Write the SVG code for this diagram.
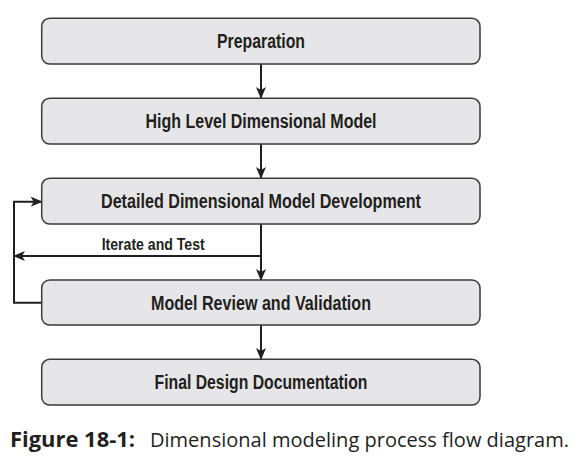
<svg xmlns="http://www.w3.org/2000/svg" width="581" height="461" viewBox="0 0 581 461">
<defs>
<style>
.box{fill:#e6e6e8;stroke:#3a3a3a;stroke-width:1.5}
.lbl{font-family:"Liberation Sans","Arial",sans-serif;font-weight:bold;font-size:19.5px;fill:#231f20;text-anchor:middle}
.small{font-size:16px;text-anchor:start}
.conn{fill:none;stroke:#231f20;stroke-width:2}
.cap{font-family:"Open Sans","Noto Sans","Liberation Sans",sans-serif;font-size:20.5px;fill:#231f20}
</style>
<marker id="ah" viewBox="0 0 12 12" refX="11" refY="6" markerWidth="12" markerHeight="12" markerUnits="userSpaceOnUse" orient="auto">
<path d="M0,1 L12,6 L0,11 L3,6 Z" fill="#231f20"/>
</marker>
</defs>
<rect width="581" height="461" fill="#ffffff"/>
<g id="connectors">
<line class="conn" x1="261" y1="64" x2="261" y2="98" marker-end="url(#ah)"/>
<line class="conn" x1="261" y1="144" x2="261" y2="178" marker-end="url(#ah)"/>
<line class="conn" x1="261" y1="224" x2="261" y2="280" marker-end="url(#ah)"/>
<line class="conn" x1="261" y1="256" x2="14" y2="256" marker-end="url(#ah)"/>
<polyline class="conn" points="41.7,302.7 14,302.7 14,201.7 41.7,201.7" marker-end="url(#ah)"/>
<line class="conn" x1="261" y1="325" x2="261" y2="359" marker-end="url(#ah)"/>
<text class="lbl small" x="101.7" y="250" textLength="103" lengthAdjust="spacingAndGlyphs">Iterate and Test</text>
</g>
<g id="n1">
<rect class="box" x="41.7" y="18.3" width="438.3" height="45.7" rx="8"/>
<text class="lbl" x="261" y="47.8" textLength="88" lengthAdjust="spacingAndGlyphs">Preparation</text>
</g>
<g id="n2">
<rect class="box" x="41.7" y="98.3" width="438.3" height="45.7" rx="8"/>
<text class="lbl" x="261" y="127.8" textLength="231" lengthAdjust="spacingAndGlyphs">High Level Dimensional Model</text>
</g>
<g id="n3">
<rect class="box" x="41.7" y="178.3" width="438.3" height="45.7" rx="8"/>
<text class="lbl" x="261" y="208" textLength="320" lengthAdjust="spacingAndGlyphs">Detailed Dimensional Model Development</text>
</g>
<g id="n4">
<rect class="box" x="41.7" y="280" width="438.3" height="45" rx="8"/>
<text class="lbl" x="261" y="309.5" textLength="220" lengthAdjust="spacingAndGlyphs">Model Review and Validation</text>
</g>
<g id="n5">
<rect class="box" x="41.7" y="359.3" width="438.3" height="45.7" rx="8"/>
<text class="lbl" x="261" y="389" textLength="213" lengthAdjust="spacingAndGlyphs">Final Design Documentation</text>
</g>
<text class="cap" x="10" y="446.5"><tspan font-weight="bold" textLength="125" lengthAdjust="spacingAndGlyphs">Figure 18-1:</tspan><tspan x="150" textLength="419" lengthAdjust="spacingAndGlyphs">Dimensional modeling process flow diagram.</tspan></text>
</svg>
